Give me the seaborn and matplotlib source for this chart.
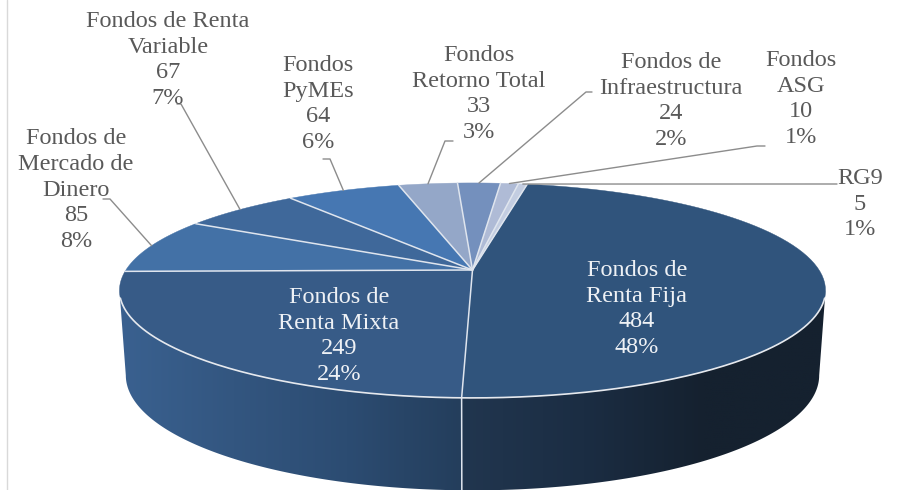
import numpy as np
import seaborn as sns
import matplotlib.pyplot as plt
from matplotlib.patches import Polygon

names = ["Fondos de\nRenta Fija", "Fondos de\nRenta Mixta", "Fondos de\nMercado de\nDinero",
         "Fondos de Renta\nVariable", "Fondos\nPyMEs", "Fondos\nRetorno Total",
         "Fondos de\nInfraestructura", "Fondos\nASG", "RG9"]
counts = [484, 249, 85, 67, 64, 33, 24, 10, 5]
shares = [48, 24, 8, 7, 6, 3, 2, 1, 1]
top_colors = ["#30547c", "#375b87", "#4371a6", "#3f689a", "#4677b2",
              "#94a7c8", "#7490bd", "#afbbd6", "#c3cde1"]

sns.set_theme(style="white")
plt.rcParams['font.family'] = ['Liberation Serif', 'DejaVu Serif']

# pie geometry in pixels: apex, radii and perspective of the top face
cx, cy = 472.5, 270
rx, ry, k = 346.6, 103.6, 0.19
start = 10.8


def top_pt(t):
    u, v = np.sin(np.radians(t)), np.cos(np.radians(t))
    return cx + rx * u / (1 + k * v), cy - ry * v / (1 + k * v)


def bottom_pt(t):
    x, y = top_pt(t)
    return cx + (x - cx) * 0.982, cy + 83.5 + (y - cy) * 1.07


vals = np.array(counts, dtype=float)
edges = start + np.concatenate([[0], np.cumsum(vals)]) / vals.sum() * 360
mids = (edges[:-1] + edges[1:]) / 2

fig = plt.figure(figsize=(8.97, 4.9), dpi=100)
ax = fig.add_axes([0, 0, 1, 1])

ax.plot([6.5, 6.5], [0, 490], color="#d9d9d9", lw=1)

# side wall: horizontal gradient clipped to the wall outline
# 101 and 259 degrees are where the rim turns away from the viewer
walls = [(edges[1], 259, ["#3a6190", "#335680", "#2c4c72", "#243e5c"]),
         (101, edges[1], ["#21364f", "#1b2d43", "#15212f", "#15212f"])]
for t_a, t_b, cols in walls:
    ts = np.linspace(t_a, t_b, 200)
    outline = [top_pt(t) for t in ts] + [bottom_pt(t) for t in ts[::-1]]
    xs = [p[0] for p in outline]
    pal = np.array(sns.blend_palette(cols, 256))[None, :, :3]
    im = ax.imshow(pal, extent=(min(xs), max(xs), 490, 250), aspect="auto", interpolation="bilinear", zorder=0.5)
    im.set_clip_path(Polygon(outline, closed=True, transform=ax.transData))

ax.set_xlim(0, 897)
ax.set_ylim(490, 0)
ax.axis("off")

# top face
for i in range(len(counts)):
    ts = np.linspace(edges[i], edges[i + 1], 80)
    pts = [(cx, cy)] + [top_pt(t) for t in ts]
    ax.add_patch(Polygon(pts, closed=True, facecolor=top_colors[i], edgecolor=top_colors[i], lw=0.3))

# white separators
for e in edges[:-1]:
    x, y = top_pt(e)
    ax.plot([cx, x], [cy, y], color="#dfe5ee", lw=1.1, solid_capstyle="round")
rim = np.linspace(105, 255, 200)
rim_xy = np.array([top_pt(t) for t in rim])
ax.plot(rim_xy[:, 0], rim_xy[:, 1], color="#e6e9ee", lw=1.2)
x0, y0 = top_pt(edges[1])
x1, y1 = bottom_pt(edges[1])
ax.plot([x0, x1], [y0, y1], color="#dfe5ee", lw=1.1)

# labels and leader lines
label_pos = [(637, 309), (339, 336), (76, 190), (168, 60), (318, 104), (479, 94), (671, 101), (801, 99), (860, 204)]
elbows = {2: [(103, 199), (110, 199)], 3: [(177, 104), (181, 104)], 4: [(323, 159), (330, 159)],
          5: [(453, 141), (445, 141)], 6: [(592, 92), (586, 92)], 7: [(765, 146), (757, 146)],
          8: [(837, 184)]}
for i, name in enumerate(names):
    color = "#eef1f5" if i < 2 else "#595959"
    ax.text(label_pos[i][0], label_pos[i][1], f"{name}\n{counts[i]}\n{shares[i]}%", ha="center", va="center",
            fontsize=17.5, color=color, linespacing=1.3)
    if i in elbows:
        line = np.array(elbows[i] + [top_pt(mids[i])])
        ax.plot(line[:, 0], line[:, 1], color="#8c8c8c", lw=1)

fig.savefig("out.png", dpi=100)
